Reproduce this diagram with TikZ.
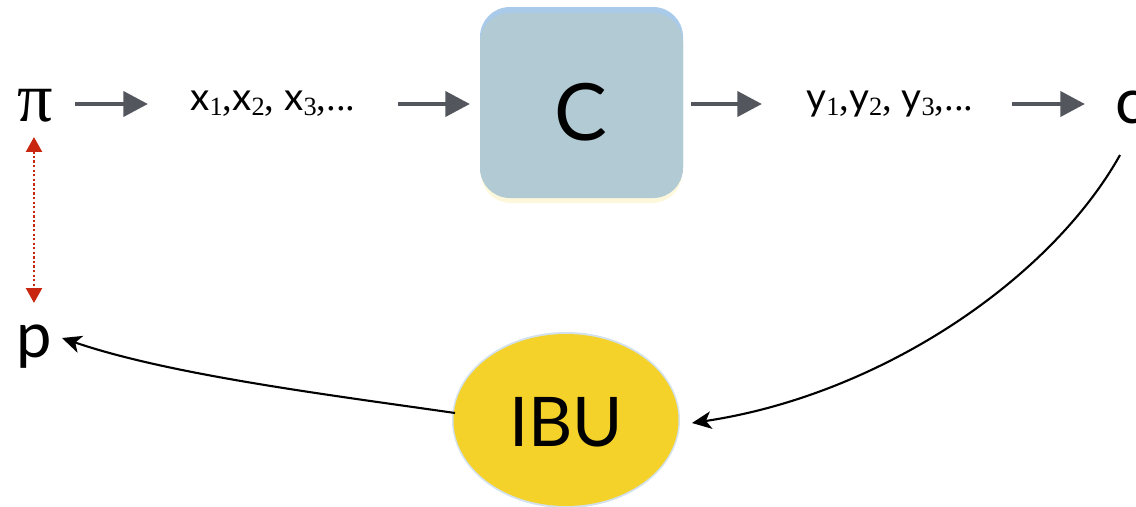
\documentclass[tikz,border=0pt]{standalone}
\usepackage{fontspec}
\setmainfont{Lato}
\newfontfamily\serifnum{Liberation Serif}
\usetikzlibrary{arrows.meta,shapes.geometric}
\definecolor{arrowgray}{HTML}{53575D}
\definecolor{boxfill}{HTML}{B1CAD3}
\definecolor{boxtop}{HTML}{A9CBE9}
\definecolor{boxglow}{HTML}{FDF7DC}
\definecolor{ibufill}{HTML}{F4D22A}
\definecolor{ibuedge}{HTML}{D3E1EC}
\definecolor{linkred}{HTML}{C8260F}
\newcommand{\idx}[1]{\raisebox{-3pt}{\serifnum\fontsize{15}{15}\selectfont #1}}
\newcommand{\pun}[1]{{\serifnum #1}}
\tikzset{
  flow/.style={draw=arrowgray, line width=2.8pt, -{Triangle[length=14pt, width=14pt]}},
  feedback/.style={draw=black, line width=1.2pt, -{Stealth[length=11pt, width=10pt, inset=3pt]}},
  link/.style={draw=linkred, line width=1.5pt, dash pattern=on 1.3pt off 1.3pt, {Triangle[length=8.5pt, width=9pt]}-{Triangle[length=8.5pt, width=9pt]}},
  sym/.style={inner sep=0pt, font=\fontsize{36}{36}\selectfont},
  seq/.style={inner sep=0pt, anchor=base west, font=\fontsize{22}{22}\selectfont},
}
\begin{document}
\begin{tikzpicture}[x=0.02cm, y=-0.02cm]
\useasboundingbox (0,0) rectangle (1136,507);

% channel box with soft glow above and below
\fill[boxglow, rounded corners=17pt] (481,14) rectangle (682,203);
\fill[boxtop, rounded corners=17pt] (480,7) rectangle (683,196);
\fill[boxfill, rounded corners=17pt] (480,13) rectangle (683,198);
\node[inner sep=0pt, font=\fontsize{45}{45}\selectfont] (C) at (581,112) {C};
\coordinate (Cw) at (470,104);
\coordinate (Ce) at (691,104);

% estimator ellipse
\fill[ibuedge] (566,420) ellipse (114 and 88);
\node[ellipse, fill=ibufill, minimum width=4.5cm, minimum height=3.44cm, inner sep=0pt] (IBU) at (566,420) {};
\node[inner sep=0pt, font=\fontsize{39}{39}\selectfont] at (566,422) {IBU};

% symbols
\node[inner sep=0pt, font=\fontsize{40}{40}\selectfont\serifnum] (pi) at (35,106) {π};
\node[sym, anchor=base] (p) at (34,357) {p};
\node[sym, anchor=base west] (c) at (1115,123) {c};

% sequences
\node[seq] (xs) at (190,110) {x\idx{1}\pun{,}x\idx{2}\pun{,} x\idx{3}\pun{,...}};
\node[seq] (ys) at (806,110) {y\idx{1}\pun{,}y\idx{2}\pun{,} y\idx{3}\pun{,...}};

% forward flow
\coordinate (a1s) at (75,104);
\coordinate (a1e) at (148,104);
\coordinate (a2s) at (398,104);
\draw[flow] (a1s) -- (a1e);
\draw[flow] (a2s) -- (Cw);
\coordinate (a4s) at (1012,104);
\coordinate (a4e) at (1085,104);
\coordinate (a3e) at (762,104);
\draw[flow] (Ce) -- (a3e);
\draw[flow] (a4s) -- (a4e);

% feedback loop
\coordinate (cb) at (1120,155);
\coordinate (ibuin) at (692,423);
\coordinate (ibuout) at (455,413);
\coordinate (pin) at (62,338);
\draw[feedback] (cb) .. controls (1050,280) and (880,395) .. (ibuin);
\draw[feedback] (ibuout) .. controls (330,395) and (170,375) .. (pin);

% correspondence between pi and p
\coordinate (lt) at (34,137);
\coordinate (lb) at (34,303);
\draw[link] (lt) -- (lb);
\end{tikzpicture}
\end{document}
